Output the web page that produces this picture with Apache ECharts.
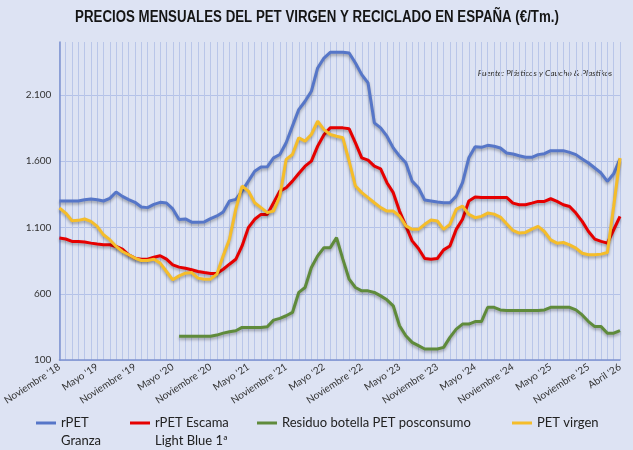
<!DOCTYPE html>
<html lang="es">
<head>
<meta charset="utf-8">
<title>Precios mensuales del PET virgen y reciclado en España</title>
<script src="https://cdn.jsdelivr.net/npm/echarts@6/dist/echarts.min.js"></script>
<style>
  html, body { margin: 0; padding: 0; background: #dde3f3; }
  #main { width: 633px; height: 450px; }
</style>
</head>
<body>
<div id="main"></div>
<script>
// meses desde noviembre 2018 hasta abril 2026
var MESES = ['Enero', 'Febrero', 'Marzo', 'Abril', 'Mayo', 'Junio', 'Julio',
             'Agosto', 'Septiembre', 'Octubre', 'Noviembre', 'Diciembre'];
var categorias = [];
for (var i = 0; i < 90; i++) {
    var k = 10 + i;
    categorias.push(MESES[k % 12] + " '" + (18 + Math.floor(k / 12)));
}

// €/Tm.
var rpetGranza = [
    1300, 1300, 1300, 1300, 1310, 1315, 1310, 1300, 1320, 1368,
    1335, 1310, 1290, 1255, 1250, 1275, 1290, 1285, 1240, 1160,
    1165, 1140, 1140, 1142, 1167, 1187, 1217, 1300, 1312, 1375,
    1450, 1525, 1556, 1558, 1626, 1651, 1739, 1865, 1990, 2053,
    2128, 2304, 2379, 2422, 2422, 2422, 2417, 2341, 2254, 2191,
    1890, 1852, 1789, 1701, 1639, 1588, 1450, 1400, 1307, 1300,
    1292, 1287, 1287, 1337, 1438, 1626, 1709, 1705, 1720, 1713,
    1700, 1662, 1655, 1642, 1630, 1630, 1650, 1657, 1680, 1680,
    1680, 1667, 1650, 1617, 1587, 1549, 1511, 1448, 1506, 1617
];
var rpetEscama = [
    1020, 1013, 995, 995, 990, 982, 975, 970, 970, 957,
    937, 894, 869, 861, 861, 876, 887, 861, 818, 801,
    793, 781, 768, 760, 753, 753, 785, 823, 860, 961,
    1099, 1162, 1199, 1199, 1287, 1375, 1400, 1450, 1508, 1563,
    1601, 1714, 1800, 1852, 1852, 1852, 1845, 1739, 1626, 1609,
    1563, 1543, 1438, 1363, 1224, 1112, 999, 941, 866, 861,
    866, 931, 961, 1086, 1162, 1300, 1330, 1327, 1327, 1327,
    1327, 1327, 1284, 1272, 1272, 1284, 1297, 1297, 1317, 1297,
    1272, 1259, 1209, 1146, 1070, 1012, 995, 982, 1083, 1184
];
var residuo = [
    null, null, null, null, null, null, null, null, null, null,
    null, null, null, null, null, null, null, null, null, 280,
    280, 280, 280, 280, 280, 288, 303, 313, 321, 346,
    346, 346, 346, 351, 401, 414, 434, 459, 610, 647,
    798, 886, 948, 948, 1024, 861, 710, 647, 622, 622,
    610, 584, 554, 509, 359, 283, 233, 208, 183, 183,
    183, 195, 271, 333, 371, 371, 390, 390, 498, 498,
    478, 473, 473, 473, 473, 473, 473, 478, 498, 498,
    498, 498, 478, 440, 390, 352, 352, 302, 302, 322
];
var petVirgen = [
    1247, 1209, 1151, 1154, 1164, 1146, 1108, 1045, 1008, 957,
    919, 894, 869, 851, 851, 861, 831, 768, 705, 735,
    755, 760, 718, 710, 710, 748, 886, 1011, 1237, 1413,
    1375, 1287, 1250, 1212, 1224, 1337, 1614, 1651, 1777, 1752,
    1802, 1902, 1839, 1802, 1789, 1777, 1600, 1413, 1363, 1325,
    1287, 1250, 1224, 1224, 1187, 1112, 1086, 1086, 1124, 1157,
    1149, 1086, 1124, 1237, 1262, 1199, 1174, 1184, 1209, 1201,
    1179, 1128, 1078, 1058, 1063, 1088, 1108, 1070, 1007, 982,
    987, 969, 944, 906, 894, 894, 899, 911, 1260, 1625
];

var FONT = 'Lato, "Open Sans", sans-serif';

function serie(nombre, datos, color) {
    return {
        name: nombre,
        type: 'line',
        data: datos,
        showSymbol: false,
        symbol: 'none',
        smooth: false,
        lineStyle: {
            width: 3,
            color: color,
            shadowColor: 'rgba(0,0,0,0.3)',
            shadowBlur: 3,
            shadowOffsetY: 2
        },
        itemStyle: { color: color },
        emphasis: { disabled: true }
    };
}

// la linea en blanco delante deja el icono a la altura de la primera linea
function leyenda(nombre, texto, left, top) {
    return {
        left: left,
        top: top,
        padding: 0,
        data: [nombre],
        icon: 'rect',
        itemWidth: 20,
        itemHeight: 3,
        selectedMode: false,
        formatter: function () { return texto; },
        textStyle: {
            fontFamily: FONT,
            fontSize: 13,
            color: '#222',
            lineHeight: 18
        }
    };
}

var myChart = echarts.init(document.getElementById('main'));

myChart.setOption({
    backgroundColor: '#dde3f3',
    animation: false,
    legend: [
        leyenda('rPET Granza', '\nrPET\nGranza', 36, 396),
        leyenda('rPET Escama Light Blue 1ª', '\nrPET Escama\nLight Blue 1ª', 130, 396),
        leyenda('Residuo botella PET posconsumo', 'Residuo botella PET posconsumo', 257, 414),
        leyenda('PET virgen', 'PET virgen', 512, 414)
    ],
    graphic: [{
        type: 'text',
        x: 317,
        y: 18,
        scaleX: 0.83,
        style: {
            text: 'PRECIOS MENSUALES DEL PET VIRGEN Y RECICLADO EN ESPAÑA (€/Tm.)',
            x: 0,
            y: 0,
            font: 'bold 16px "Liberation Sans", Arial, sans-serif',
            fill: '#151515',
            align: 'center',
            verticalAlign: 'middle',
            textAlign: 'center',
            textVerticalAlign: 'middle'
        }
    }, {
        type: 'group',
        left: 473,
        top: 63,
        z: 100,
        children: [{
            type: 'rect',
            shape: { x: 0, y: 0, width: 144, height: 20 },
            style: { fill: '#dde3f3' }
        }, {
            type: 'text',
            x: 72,
            y: 10,
            style: {
                text: 'Fuente: Plásticos y Caucho & Plastikos',
                font: 'italic 8.5px Lato, sans-serif',
                fill: '#2a2a2a',
                align: 'center',
                verticalAlign: 'middle',
                textAlign: 'center',
                textVerticalAlign: 'middle'
            }
        }]
    }],
    grid: {
        left: 55,
        right: 13,
        top: 42,
        bottom: 90
    },
    xAxis: {
        type: 'category',
        data: categorias,
        boundaryGap: false,
        axisLine: { lineStyle: { color: '#7d92cf', width: 1.5 } },
        axisTick: { show: false },
        splitLine: {
            show: true,
            interval: 0,
            lineStyle: { color: '#b9c6e9', width: 1 }
        },
        axisLabel: {
            interval: function (idx) { return idx % 6 === 0 || idx === 89; },
            rotate: 33,
            margin: 6,
            fontFamily: FONT,
            fontSize: 10,
            color: '#333'
        }
    },
    yAxis: {
        type: 'value',
        min: 100,
        max: 2500,
        interval: 500,
        axisLine: { show: true, lineStyle: { color: '#7d92cf', width: 1.5 } },
        axisTick: { show: false },
        splitLine: {
            lineStyle: {
                color: ['#b4c2e8', '#b4c2e8', '#b4c2e8', '#b4c2e8', '#b4c2e8', 'rgba(0,0,0,0)'],
                width: 1
            }
        },
        axisLabel: {
            showMaxLabel: false,
            margin: 8,
            fontFamily: FONT,
            fontSize: 10,
            color: '#333',
            formatter: function (v) {
                return String(v).replace(/\B(?=(\d{3})+(?!\d))/g, '.');
            }
        }
    },
    series: [
        serie('rPET Granza', rpetGranza, '#5676c8'),
        serie('rPET Escama Light Blue 1ª', rpetEscama, '#e60000'),
        serie('Residuo botella PET posconsumo', residuo, '#5f8b3b'),
        serie('PET virgen', petVirgen, '#f5bd2a')
    ]
});
</script>
</body>
</html>
